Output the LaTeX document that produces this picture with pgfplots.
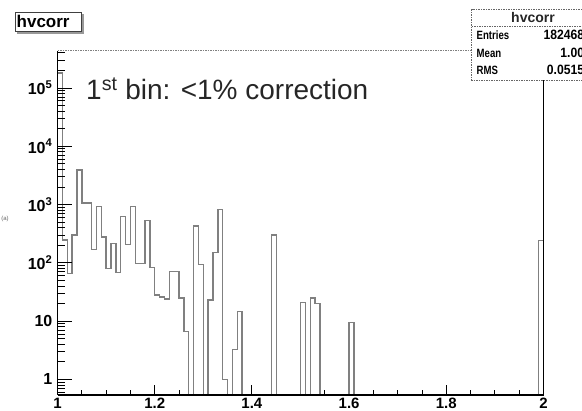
\documentclass[border=0pt]{standalone}
\usepackage{fontspec}
\setmainfont{Liberation Sans}
\usepackage{graphicx}
\usepackage{pgfplots}
\pgfplotsset{compat=1.18}
\begin{document}
\begin{tikzpicture}[x=1pt,y=1pt]
\useasboundingbox (0,0) rectangle (582,411);
\clip (0,0) rectangle (582,411);
% data + x ticks
\begin{axis}[
  at={(57.5pt,16pt)}, anchor=south west,
  scale only axis, width=486pt, height=344.3pt,
  xmin=1, xmax=2, ymode=log, ymin=0.542, ymax=4.36e5,
  axis line style={draw=none},
  xtick={1,1.2,1.4,1.6,1.8,2},
  xticklabels={1,1.2,1.4,1.6,1.8,2},
  minor xtick={1.05,1.1,1.15,1.25,1.3,1.35,1.45,1.5,1.55,1.65,1.7,1.75,1.85,1.9,1.95},
  ytick=\empty,
  xtick pos=bottom,
  tick align=inside,
  major tick length=10pt, minor tick length=5pt,
  tick style={black, line width=0.9pt},
  xticklabel style={font=\bfseries\fontsize{15}{15}\selectfont, anchor=north, inner sep=0pt, yshift=-2.5pt},
]
\addplot[const plot, black!50, line width=1.4pt] table {
x y
1.00 0.01
1.00 180000
1.01 247
1.02 66
1.03 300
1.04 3900
1.05 1070
1.06 1070
1.07 170
1.08 930
1.09 280
1.10 81
1.11 217
1.12 68
1.13 620
1.14 208
1.15 930
1.16 98
1.17 98
1.18 530
1.19 84
1.20 28
1.21 26
1.22 24
1.23 71
1.24 71
1.25 25
1.26 6.6
1.27 0.01
1.28 430
1.29 93
1.30 0.01
1.31 23
1.32 150
1.33 820
1.34 1
1.35 0.01
1.36 3.3
1.37 14.5
1.38 0.01
1.44 300
1.45 0.01
1.50 21
1.51 0.01
1.52 25
1.53 20
1.54 0.01
1.60 9.4
1.61 0.01
1.99 240
2.00 240
2.00 0.01
};
\end{axis}
% y ticks
\begin{axis}[
  at={(57.5pt,16pt)}, anchor=south west,
  scale only axis, width=486pt, height=344.3pt,
  xmin=1, xmax=2, ymode=log, ymin=0.542, ymax=4.36e5,
  axis line style={draw=none},
  xtick=\empty,
  ytick={1,10,100,1000,10000,100000},
  yticklabels={1,10,10\textsuperscript{2},10\textsuperscript{3},10\textsuperscript{4},10\textsuperscript{5}},
  minor ytick={0.6,0.7,0.8,0.9,2,3,4,5,6,7,8,9,20,30,40,50,60,70,80,90,200,300,400,500,600,700,800,900,2000,3000,4000,5000,6000,7000,8000,9000,20000,30000,40000,50000,60000,70000,80000,90000,200000,300000,400000},
  ytick pos=left,
  tick align=inside,
  major tick length=15pt, minor tick length=7.5pt,
  tick style={black, line width=0.9pt},
  yticklabel style={font=\bfseries\fontsize{16}{16}\selectfont, anchor=east, inner sep=0pt, xshift=-5pt},
]
\end{axis}
% frame
\draw[black, line width=1.2pt] (57.5,16) -- (57.5,360.3);
\draw[black, line width=1.6pt] (57.5,16) -- (544,16);
\draw[black, line width=1.2pt] (543.8,16) -- (543.8,340);
\draw[black!50, line width=0.9pt, dash pattern=on 1.5pt off 1pt] (57.5,360.3) -- (472,360.3);
% stat box
\draw[black!60, fill=white, line width=0.9pt, dash pattern=on 1.5pt off 1pt] (471.7,401.7) rectangle (620,331);
\draw[black!60, line width=0.9pt, dash pattern=on 1.5pt off 1pt] (471.7,384.3) -- (620,384.3);
\node[font=\bfseries\fontsize{14}{14}\selectfont, anchor=base, inner sep=0pt, black!85] at (533,388) {hvcorr};
\node[font=\bfseries\fontsize{12}{12}\selectfont, anchor=base west, inner sep=0pt] at (476.5,371.5) {\scalebox{0.8}[1]{Entries}};
\node[font=\bfseries\fontsize{12}{12}\selectfont, anchor=base west, inner sep=0pt] at (476.5,353) {\scalebox{0.8}[1]{Mean}};
\node[font=\bfseries\fontsize{12}{12}\selectfont, anchor=base west, inner sep=0pt] at (476.5,336) {\scalebox{0.8}[1]{RMS}};
\node[font=\bfseries\fontsize{13.5}{13.5}\selectfont, anchor=base east, inner sep=0pt] at (591,371.5) {\scalebox{0.9}[1]{1824680}};
\node[font=\bfseries\fontsize{13.5}{13.5}\selectfont, anchor=base east, inner sep=0pt] at (591,353) {\scalebox{0.9}[1]{1.009}};
\node[font=\bfseries\fontsize{13.5}{13.5}\selectfont, anchor=base east, inner sep=0pt] at (591,336) {\scalebox{0.9}[1]{0.05159}};
% title box
\draw[black!40, line width=2pt] (82.5,378) -- (82.5,397) (17,378) -- (83.5,378);
\draw[black!75, fill=white, line width=0.8pt] (15,380) rectangle (81.5,399);
\node[font=\bfseries\fontsize{17}{17}\selectfont, anchor=base west, inner sep=0pt] at (16.5,383) {hvcorr};
% annotation
\node[font=\fontsize{28}{28}\selectfont, anchor=base west, inner sep=0pt, black!85] at (86,311) {1\textsuperscript{st} bin: <1\% correction};
% y title fragment
\node[font=\fontsize{6}{6}\selectfont, anchor=center, inner sep=0pt, black!60] at (5,192) {(a)};
\end{tikzpicture}
\end{document}
